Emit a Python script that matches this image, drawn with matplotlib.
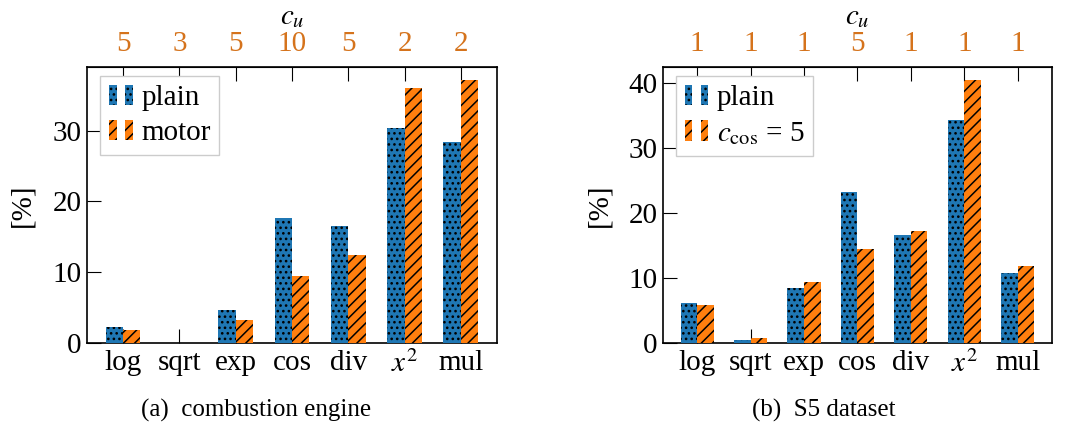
import numpy as np
import matplotlib
matplotlib.use('Agg')
import matplotlib.pyplot as plt
from matplotlib.legend_handler import HandlerTuple

# categories and values
cats = ['log', 'sqrt', 'exp', 'cos', 'div', '$x^2$', 'mul']

# (a) combustion engine
cu_a = ['5', '3', '5', '10', '5', '2', '2']
plain_a = [2.2, 0.0, 4.6, 17.7, 16.6, 30.4, 28.4]
motor_a = [1.8, 0.0, 3.2, 9.4, 12.4, 36.0, 37.2]

# (b) S5 dataset
cu_b = ['1', '1', '1', '5', '1', '1', '1']
plain_b = [6.2, 0.5, 8.5, 23.2, 16.7, 34.4, 10.7]
ccos_b = [5.9, 0.7, 9.4, 14.5, 17.3, 40.5, 11.9]

BLUE = '#1f77b4'
ORANGE = '#ff7f0e'
LABEL_ORANGE = '#d5731c'

plt.rcParams['font.family'] = ['Liberation Serif', 'DejaVu Serif']
plt.rcParams['mathtext.fontset'] = 'stix'
plt.rcParams['hatch.color'] = 'black'
plt.rcParams['hatch.linewidth'] = 1.1
FS = 21


def draw_panel(ax, cu, s1, s2, lab1, lab2, ymax, ylab_x):
  x = np.arange(len(cats))
  w = 0.31
  b1 = ax.bar(x - w/2, s1, w, color=BLUE, edgecolor='black', linewidth=0,
              hatch='...', zorder=3)
  b2 = ax.bar(x + w/2, s2, w, color=ORANGE, edgecolor='black', linewidth=0,
              hatch='///', zorder=3)
  ax.set_xlim(-0.64, len(cats) - 1 + 0.64)
  ax.set_ylim(0, ymax)
  ax.set_xticks(x)
  ax.set_xticklabels(cats, fontsize=FS)
  ax.tick_params(axis='x', direction='in', length=10, width=0.8, pad=5)
  ax.tick_params(axis='y', direction='in', length=10, width=0.8, labelsize=FS, pad=4)
  for s in ax.spines.values():
    s.set_linewidth(1.2)
  ax.set_ylabel('[%]', fontsize=FS)
  ax.yaxis.set_label_coords(ylab_x, 0.5)

  # top axis with c_u values
  top = ax.secondary_xaxis('top')
  top.set_xticks(x)
  top.set_xticklabels(cu, fontsize=FS, color=LABEL_ORANGE)
  top.tick_params(direction='in', length=10, width=0.8, pad=7)
  top.set_xlabel('$c_u$', fontsize=FS, labelpad=5)

  leg = ax.legend([(b1[0], b1[0]), (b2[0], b2[0])], [lab1, lab2],
                  handler_map={tuple: HandlerTuple(ndivide=None, pad=0.3)},
                  loc='upper left', bbox_to_anchor=(0.033, 0.967), borderaxespad=0,
                  fontsize=FS, handlelength=0.8, handleheight=0.7, handletextpad=0.3,
                  labelspacing=0.3, borderpad=0.3, fancybox=False, framealpha=1,
                  edgecolor='#cccccc')
  leg.get_frame().set_linewidth(1.0)


fig = plt.figure(figsize=(10.75, 4.29), dpi=100)
ax1 = fig.add_axes([0.0809, 0.2005, 0.3814, 0.6434])
ax2 = fig.add_axes([0.6167, 0.2005, 0.3619, 0.6434])

draw_panel(ax1, cu_a, plain_a, motor_a, 'plain', 'motor', 39.0, -0.127)
draw_panel(ax2, cu_b, plain_b, ccos_b, 'plain', r'$c_{\mathrm{cos}}$ = 5', 42.5, -0.129)
ax1.set_yticks([0, 10, 20, 30])
ax2.set_yticks([0, 10, 20, 30, 40])

fig.text(256/1075, 0.044, '(a)  combustion engine', ha='center', va='center', fontsize=18)
fig.text(824/1075, 0.044, '(b)  S5 dataset', ha='center', va='center', fontsize=18)

fig.savefig('out.png', dpi=100)
